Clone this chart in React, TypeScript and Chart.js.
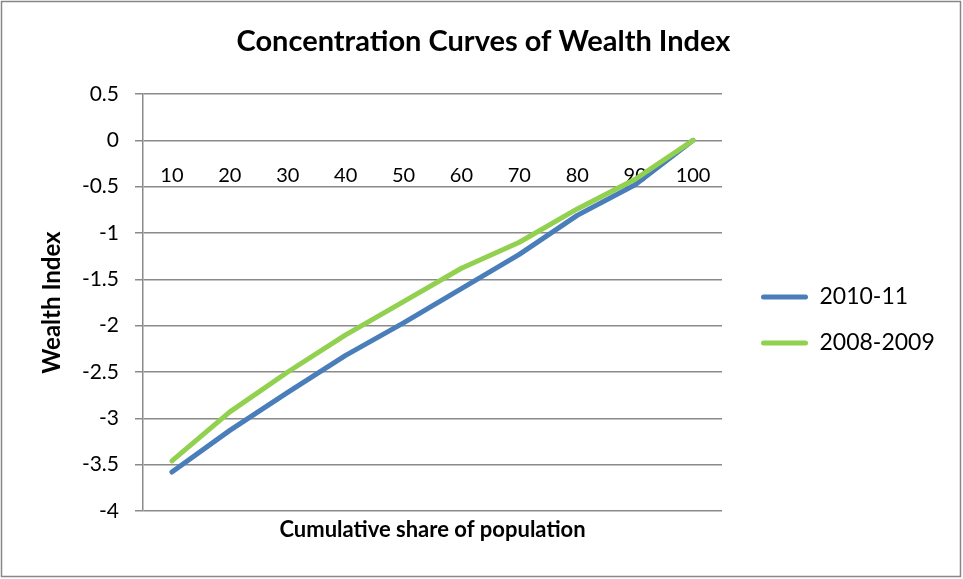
import React, { useEffect, useRef } from 'react';
import { Chart, registerables } from 'chart.js';

Chart.register(...registerables);

const categories = ['10', '20', '30', '40', '50', '60', '70', '80', '90', '100'];
const series201011 = [-3.58, -3.13, -2.72, -2.32, -1.97, -1.6, -1.23, -0.81, -0.48, 0];
const series20082009 = [-3.46, -2.93, -2.5, -2.1, -1.74, -1.38, -1.1, -0.74, -0.42, 0];
const seriesNames = ['2010-11', '2008-2009'];
const seriesColors = ['#4a7ebb', '#92d050'];
const yMin = -4;
const yMax = 0.5;
const yStep = 0.5;

const FONT = 'Lato, "Open Sans", sans-serif';
const GRID = '#8a8a8a';

const framePlugin = {
  id: 'frame',
  beforeDraw(chart: any) {
    const { ctx, width, height } = chart;
    ctx.save();
    ctx.fillStyle = '#ffffff';
    ctx.fillRect(0, 0, width, height);
    ctx.strokeStyle = '#878787';
    ctx.lineWidth = 1.5;
    ctx.strokeRect(1.5, 1.5, width - 4, height - 4);
    ctx.restore();
  },
};

// legend marker: a short line drawn in the right part of a 63px-wide swatch
function makeSwatch(color: string) {
  const c = document.createElement('canvas');
  c.width = 63;
  c.height = 8;
  const g = c.getContext('2d')!;
  g.strokeStyle = color;
  g.lineWidth = 5;
  g.lineCap = 'round';
  g.beginPath();
  g.moveTo(18.5, 4);
  g.lineTo(60.5, 4);
  g.stroke();
  return c;
}

export default function App() {
  const ref = useRef<HTMLCanvasElement>(null);

  useEffect(() => {
    if (!ref.current) return;
    const common = {
      borderWidth: 5,
      borderCapStyle: 'round',
      borderJoinStyle: 'round',
      pointRadius: 0,
      pointHoverRadius: 0,
      tension: 0,
      fill: false,
      xAxisID: 'x',
      yAxisID: 'y',
    };
    const chart = new Chart(ref.current, {
      type: 'line',
      data: {
        labels: categories,
        datasets: [
          {
            ...common,
            label: seriesNames[0],
            data: series201011,
            borderColor: seriesColors[0],
            backgroundColor: seriesColors[0],
            pointStyle: makeSwatch(seriesColors[0]),
            order: 1,
          },
          {
            ...common,
            label: seriesNames[1],
            data: series20082009,
            borderColor: seriesColors[1],
            backgroundColor: seriesColors[1],
            pointStyle: makeSwatch(seriesColors[1]),
            order: 0,
          },
        ],
      },
      options: {
        responsive: false,
        animation: false,
        devicePixelRatio: 1,
        layout: { padding: { left: 29, right: 25, top: 0, bottom: 0 } },
        plugins: {
          tooltip: { enabled: false },
          title: {
            display: true,
            text: 'Concentration Curves of Wealth Index',
            color: '#000',
            font: { family: FONT, size: 29, weight: 'bold', lineHeight: 1.2 },
            padding: { top: 24.6, bottom: 34.6 },
          },
          legend: {
            display: true,
            position: 'right',
            maxWidth: 216,
            title: {
              display: true,
              text: ' ',
              font: { family: FONT, size: 10, lineHeight: 1 },
              padding: { top: 25.5, bottom: 25.5 },
            },
            labels: {
              usePointStyle: true,
              pointStyleWidth: 63,
              color: '#000',
              font: { family: FONT, size: 23 },
              padding: 23,
              sort: (a: any, b: any) => a.datasetIndex - b.datasetIndex,
            },
          },
        },
        scales: {
          x: {
            type: 'category',
            position: 'bottom',
            offset: true,
            grid: { display: false, drawTicks: false },
            border: { display: false },
            ticks: { display: false },
            title: {
              display: true,
              text: 'Cumulative share of population',
              color: '#000',
              font: { family: FONT, size: 22, weight: 'bold', lineHeight: 1.2 },
              padding: { top: 0, bottom: 35.8 },
            },
            afterFit: (s: any) => {
              s.height = 68;
            },
          },
          x2: {
            type: 'category',
            position: { y: 0 },
            offset: true,
            grid: { display: false, drawTicks: false },
            border: { display: false },
            ticks: {
              color: '#000',
              font: { family: FONT, size: 20 },
              padding: 23.5,
              maxRotation: 0,
              autoSkip: false,
            },
          },
          y: {
            type: 'linear',
            position: 'left',
            min: yMin,
            max: yMax,
            grid: { color: GRID, lineWidth: 1.5, drawTicks: true, tickLength: 8 },
            border: { display: true, color: GRID, width: 1.5 },
            ticks: {
              stepSize: yStep,
              color: '#000',
              font: { family: FONT, size: 21 },
              padding: 16,
              callback: (v: any) => String(v),
            },
            title: {
              display: true,
              text: 'Wealth Index',
              color: '#000',
              font: { family: FONT, size: 24, weight: 'bold', lineHeight: 1.2 },
              padding: { top: 8.6, bottom: 0 },
            },
            afterFit: (s: any) => {
              s.width = 114;
            },
          },
        },
      } as any,
      plugins: [framePlugin],
    });
    return () => chart.destroy();
  }, []);

  return (
    <div style={{ position: 'absolute', left: 0, top: 0, width: 963, height: 579 }}>
      <canvas ref={ref} width={963} height={579} style={{ display: 'block' }} />
    </div>
  );
}
